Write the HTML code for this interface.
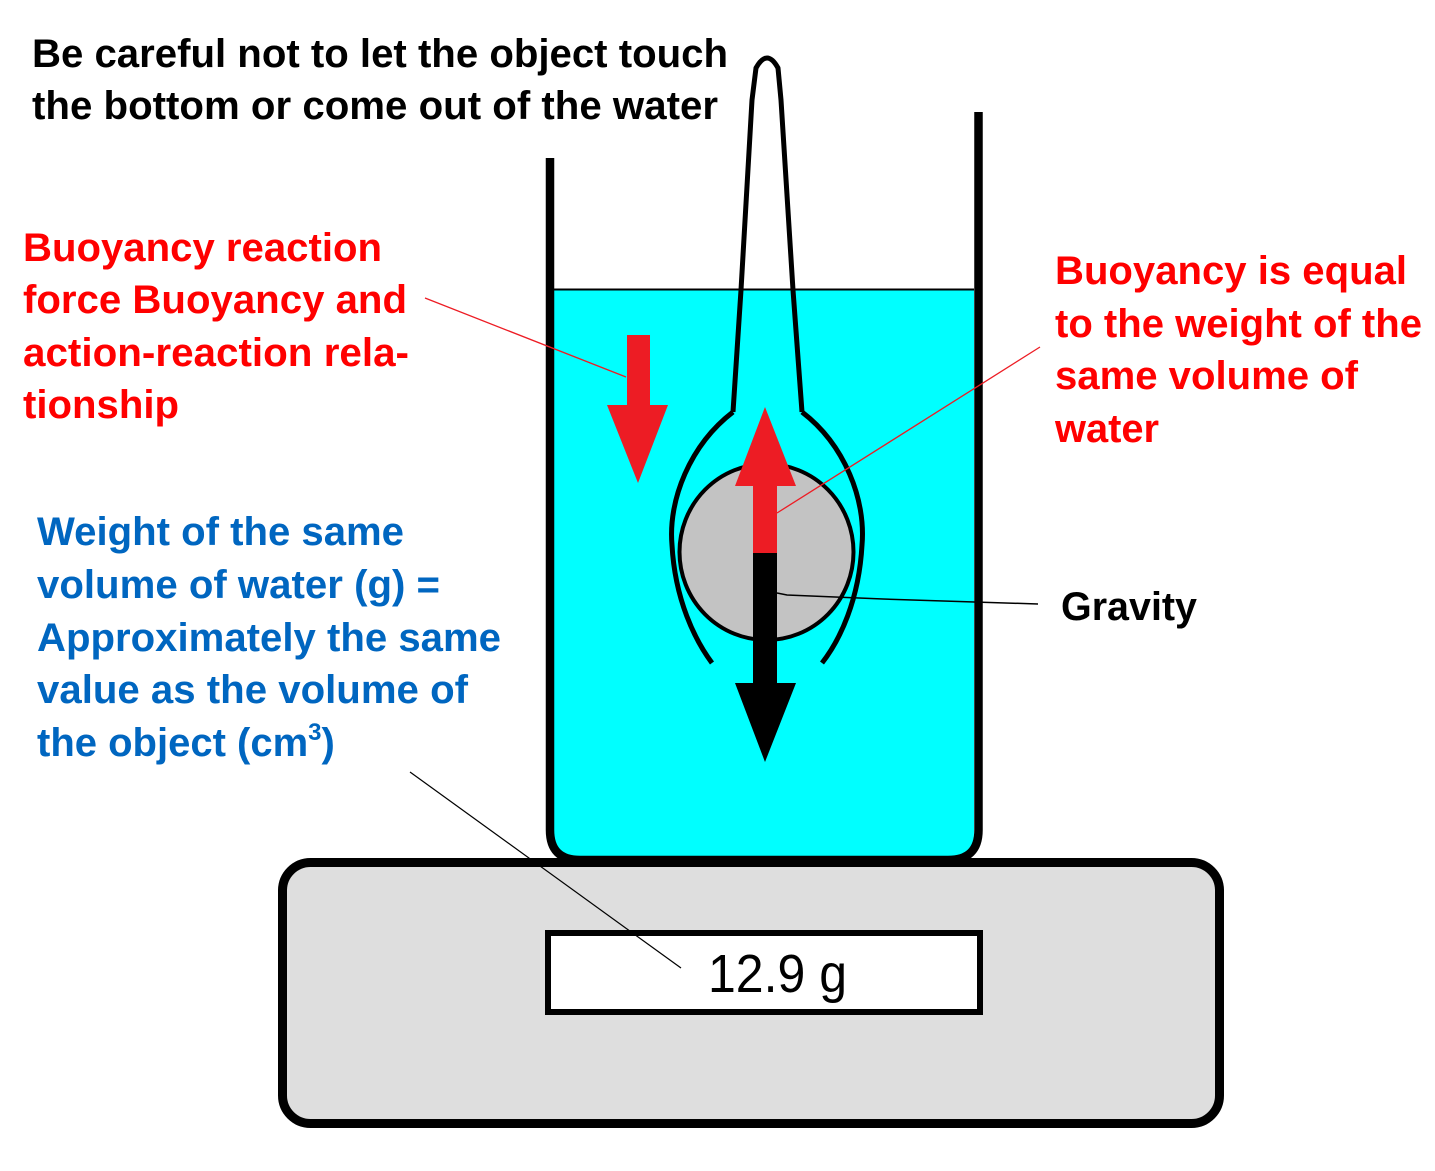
<!DOCTYPE html>
<html>
<head>
<meta charset="utf-8">
<style>
  html, body { margin: 0; padding: 0; background: #fff; }
  svg { display: block; }
  text { font-family: "Liberation Sans", Arial, sans-serif; }
  .b { font-weight: bold; font-size: 40px; }
</style>
</head>
<body>
<svg width="1435" height="1171" viewBox="0 0 1435 1171" xmlns="http://www.w3.org/2000/svg">
  <rect width="1435" height="1171" fill="#fff"/>

  <!-- Scale -->
  <rect x="282.5" y="862.5" width="937" height="261" rx="28" ry="28" fill="#dedede" stroke="#000" stroke-width="9"/>
  <rect x="548" y="933" width="432" height="79" fill="#fff" stroke="#000" stroke-width="6"/>
  <text x="708" y="992" font-size="54" textLength="139" lengthAdjust="spacingAndGlyphs" fill="#000">12.9 g</text>

  <!-- Water -->
  <path d="M554 289 L974 289 L974 832 Q974 858 948 858 L580 858 Q554 858 554 832 Z" fill="#00ffff"/>
  <line x1="554" y1="289.5" x2="974" y2="289.5" stroke="#000" stroke-width="2"/>

  <!-- Beaker -->
  <path d="M550 158 L550 830 Q550 860 580 860 L948 860 Q978.5 860 978.5 830 L978.5 112" fill="none" stroke="#000" stroke-width="8.5"/>

  <!-- Left red down arrow -->
  <polygon points="627,335 650,335 650,405 668,405 638,483 607,405 627,405" fill="#ed1c24"/>

  <!-- Pipette tube -->
  <path d="M733 412 L741 290 L752 100 L756 68 Q767 48 778 68 L781 100 L793 290 L802 412" fill="none" stroke="#000" stroke-width="5" stroke-linejoin="round"/>
  <!-- Bulb -->
  <path d="M733 412 C690 445, 668 500, 672 545 C675 600, 695 640, 712 663" fill="none" stroke="#000" stroke-width="5"/>
  <path d="M802 412 C845 445, 866 500, 862 545 C859 600, 840 640, 822 663" fill="none" stroke="#000" stroke-width="5"/>

  <!-- Sphere -->
  <ellipse cx="766.5" cy="552" rx="87" ry="88" fill="#c3c3c3" stroke="#000" stroke-width="4"/>

  <!-- Up red arrow -->
  <polygon points="765,407 796,486 777,486 777,553 753,553 753,486 735,486" fill="#ed1c24"/>
  <!-- Down black arrow -->
  <polygon points="753,553 777,553 777,683 796,683 765,762 735,683 753,683" fill="#000"/>

  <!-- Leader lines -->
  <line x1="425" y1="298" x2="626" y2="377" stroke="#ed1c24" stroke-width="1.3"/>
  <line x1="1040" y1="347" x2="777" y2="513" stroke="#ed1c24" stroke-width="1.3"/>
  <polyline points="777,593 787,595 883,599 1038,604" fill="none" stroke="#000" stroke-width="1.5"/>
  <line x1="410" y1="772" x2="681" y2="968" stroke="#000" stroke-width="1.2"/>

  <!-- Heading -->
  <text class="b" x="32" y="67" fill="#000" textLength="696" lengthAdjust="spacingAndGlyphs">Be careful not to let the object touch</text>
  <text class="b" x="32" y="119" fill="#000" textLength="686" lengthAdjust="spacingAndGlyphs">the bottom or come out of the water</text>

  <!-- Left red -->
  <text class="b" x="23" y="261" fill="#ff0000" textLength="359" lengthAdjust="spacingAndGlyphs">Buoyancy reaction</text>
  <text class="b" x="23" y="313" fill="#ff0000" textLength="384" lengthAdjust="spacingAndGlyphs">force Buoyancy and</text>
  <text class="b" x="23" y="366" fill="#ff0000" textLength="386" lengthAdjust="spacingAndGlyphs">action-reaction rela-</text>
  <text class="b" x="23" y="418" fill="#ff0000" textLength="156" lengthAdjust="spacingAndGlyphs">tionship</text>

  <!-- Right red -->
  <text class="b" x="1055" y="284" fill="#ff0000" textLength="352" lengthAdjust="spacingAndGlyphs">Buoyancy is equal</text>
  <text class="b" x="1055" y="337" fill="#ff0000" textLength="367" lengthAdjust="spacingAndGlyphs">to the weight of the</text>
  <text class="b" x="1055" y="389" fill="#ff0000" textLength="303" lengthAdjust="spacingAndGlyphs">same volume of</text>
  <text class="b" x="1055" y="442" fill="#ff0000" textLength="104" lengthAdjust="spacingAndGlyphs">water</text>

  <!-- Gravity -->
  <text class="b" x="1061" y="620" fill="#000" textLength="136" lengthAdjust="spacingAndGlyphs">Gravity</text>

  <!-- Blue -->
  <text class="b" x="37" y="545" fill="#0066c0" textLength="367" lengthAdjust="spacingAndGlyphs">Weight of the same</text>
  <text class="b" x="37" y="598" fill="#0066c0" textLength="403" lengthAdjust="spacingAndGlyphs">volume of water (g) =</text>
  <text class="b" x="37" y="651" fill="#0066c0" textLength="464" lengthAdjust="spacingAndGlyphs">Approximately the same</text>
  <text class="b" x="37" y="703" fill="#0066c0" textLength="431" lengthAdjust="spacingAndGlyphs">value as the volume of</text>
  <text class="b" x="37" y="756" fill="#0066c0">the object (cm<tspan font-size="24" dy="-16">3</tspan><tspan dy="16">)</tspan></text>
</svg>
</body>
</html>
